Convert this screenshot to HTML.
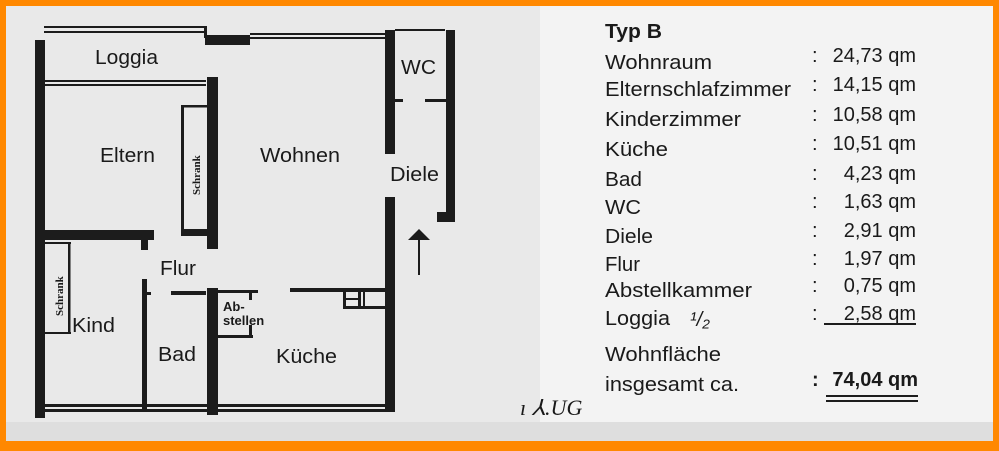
<!DOCTYPE html>
<html><head><meta charset="utf-8"><style>
html,body{margin:0;padding:0;background:#ff8c00;}
svg{display:block}
text{font-family:"Liberation Sans",sans-serif;fill:#1a1a1a}
</style></head><body>
<svg width="999" height="451" viewBox="0 0 999 451">
<rect x="0" y="0" width="999" height="451" fill="#ff8800"/>
<rect x="6" y="6" width="987" height="435" fill="#e9e9e9"/>
<rect x="540" y="6" width="453" height="420" fill="#f3f3f3"/>
<rect x="6" y="422" width="987" height="19" fill="#dedede"/>
<g fill="#1c1c1c" stroke="none">
<rect x="35" y="40" width="10" height="378"/>
<rect x="44" y="26" width="162" height="2"/>
<rect x="44" y="31" width="162" height="2"/>
<rect x="204" y="26" width="3" height="12"/>
<rect x="205" y="35" width="45" height="10"/>
<rect x="250" y="33" width="135" height="2"/>
<rect x="250" y="37" width="135" height="2"/>
<rect x="385" y="30" width="10" height="124"/>
<rect x="395" y="29" width="50" height="2"/>
<rect x="446" y="30" width="9" height="192"/>
<rect x="437" y="212" width="18" height="10"/>
<rect x="395" y="99" width="8" height="3"/>
<rect x="425" y="99" width="21" height="3"/>
<rect x="44" y="80" width="162" height="2"/>
<rect x="44" y="84" width="162" height="2"/>
<rect x="207" y="77" width="11" height="172"/>
<rect x="181" y="105" width="26" height="2.5"/>
<rect x="181" y="105" width="3" height="131"/>
<rect x="181" y="229" width="26" height="7"/>
<rect x="44" y="230" width="110" height="10"/>
<rect x="141" y="238" width="7" height="12"/>
<rect x="45" y="242" width="26" height="2"/>
<rect x="68" y="242" width="2.5" height="92"/>
<rect x="45" y="332" width="26" height="2"/>
<rect x="142" y="279" width="5" height="133"/>
<rect x="147" y="292" width="4" height="3"/>
<rect x="171" y="291" width="35" height="4"/>
<rect x="207" y="288" width="11" height="127"/>
<rect x="218" y="290" width="40" height="3"/>
<rect x="249" y="290" width="3" height="10"/>
<rect x="218" y="335" width="35" height="3"/>
<rect x="249" y="325" width="3" height="12"/>
<rect x="290" y="288" width="95" height="4"/>
<rect x="343" y="291" width="3" height="18"/>
<rect x="343" y="306" width="42" height="3"/>
<rect x="358" y="291" width="3" height="18"/>
<rect x="363" y="291" width="2" height="18"/>
<rect x="345" y="298" width="13" height="2"/>
<rect x="385" y="197" width="10" height="213"/>
<rect x="45" y="404" width="350" height="3"/>
<rect x="45" y="409" width="350" height="3"/>
<rect x="418" y="235" width="2" height="40"/>
<polygon points="419,229 408,240 430,240"/>
</g>
<g font-size="20">
<text x="95" y="64" textLength="63" lengthAdjust="spacingAndGlyphs">Loggia</text>
<text x="100" y="162" textLength="55" lengthAdjust="spacingAndGlyphs">Eltern</text>
<text x="260" y="162" textLength="80" lengthAdjust="spacingAndGlyphs">Wohnen</text>
<text x="401" y="74" textLength="35" lengthAdjust="spacingAndGlyphs">WC</text>
<text x="390" y="181" textLength="49" lengthAdjust="spacingAndGlyphs">Diele</text>
<text x="160" y="275" textLength="36" lengthAdjust="spacingAndGlyphs">Flur</text>
<text x="72" y="332" textLength="43" lengthAdjust="spacingAndGlyphs">Kind</text>
<text x="158" y="361" textLength="38" lengthAdjust="spacingAndGlyphs">Bad</text>
<text x="276" y="363" textLength="61" lengthAdjust="spacingAndGlyphs">Küche</text>
</g>
<text x="223" y="311" font-size="13" font-weight="bold">Ab-</text>
<text x="223" y="325" font-size="13" font-weight="bold">stellen</text>
<text transform="translate(200,195) rotate(-90)" font-size="11" font-weight="bold" style="font-family:'Liberation Serif',serif">Schrank</text>
<text transform="translate(63,316) rotate(-90)" font-size="11" font-weight="bold" style="font-family:'Liberation Serif',serif">Schrank</text>
<g font-size="20">
<text x="605" y="38" font-weight="bold" textLength="57" lengthAdjust="spacingAndGlyphs">Typ B</text>
<text x="605" y="69" textLength="107" lengthAdjust="spacingAndGlyphs">Wohnraum</text>
<text x="605" y="96" textLength="186" lengthAdjust="spacingAndGlyphs">Elternschlafzimmer</text>
<text x="605" y="126" textLength="136" lengthAdjust="spacingAndGlyphs">Kinderzimmer</text>
<text x="605" y="156" textLength="63" lengthAdjust="spacingAndGlyphs">Küche</text>
<text x="605" y="186" textLength="37" lengthAdjust="spacingAndGlyphs">Bad</text>
<text x="605" y="214" textLength="36" lengthAdjust="spacingAndGlyphs">WC</text>
<text x="605" y="243" textLength="48" lengthAdjust="spacingAndGlyphs">Diele</text>
<text x="605" y="271" textLength="35" lengthAdjust="spacingAndGlyphs">Flur</text>
<text x="605" y="297" textLength="147" lengthAdjust="spacingAndGlyphs">Abstellkammer</text>
<text x="605" y="325" textLength="65" lengthAdjust="spacingAndGlyphs">Loggia</text>
<text x="690" y="326" font-style="italic">¹/₂</text>
<text x="605" y="361" textLength="116" lengthAdjust="spacingAndGlyphs">Wohnfläche</text>
<text x="605" y="391" textLength="134" lengthAdjust="spacingAndGlyphs">insgesamt ca.</text>
<g>
<text x="812" y="62">:</text><text x="812" y="91">:</text><text x="812" y="121">:</text><text x="812" y="150">:</text>
<text x="812" y="180">:</text><text x="812" y="208">:</text><text x="812" y="237">:</text><text x="812" y="265">:</text>
<text x="812" y="292">:</text><text x="812" y="320">:</text><text x="812" y="386" font-weight="bold">:</text>
</g>
<g text-anchor="end">
<text x="916" y="62">24,73 qm</text>
<text x="916" y="91">14,15 qm</text>
<text x="916" y="121">10,58 qm</text>
<text x="916" y="150">10,51 qm</text>
<text x="916" y="180">4,23 qm</text>
<text x="916" y="208">1,63 qm</text>
<text x="916" y="237">2,91 qm</text>
<text x="916" y="265">1,97 qm</text>
<text x="916" y="292">0,75 qm</text>
<text x="916" y="320">2,58 qm</text>
<text x="918" y="386" font-weight="bold">74,04 qm</text>
</g>
</g>
<rect x="824" y="323" width="92" height="2" fill="#1c1c1c"/>
<rect x="826" y="395" width="92" height="2" fill="#1c1c1c"/>
<rect x="826" y="400" width="92" height="2" fill="#1c1c1c"/>
<text x="520" y="415" font-size="22" font-style="italic" style="font-family:'Liberation Serif',serif">ı ⅄.UG</text>
</svg>
</body></html>
